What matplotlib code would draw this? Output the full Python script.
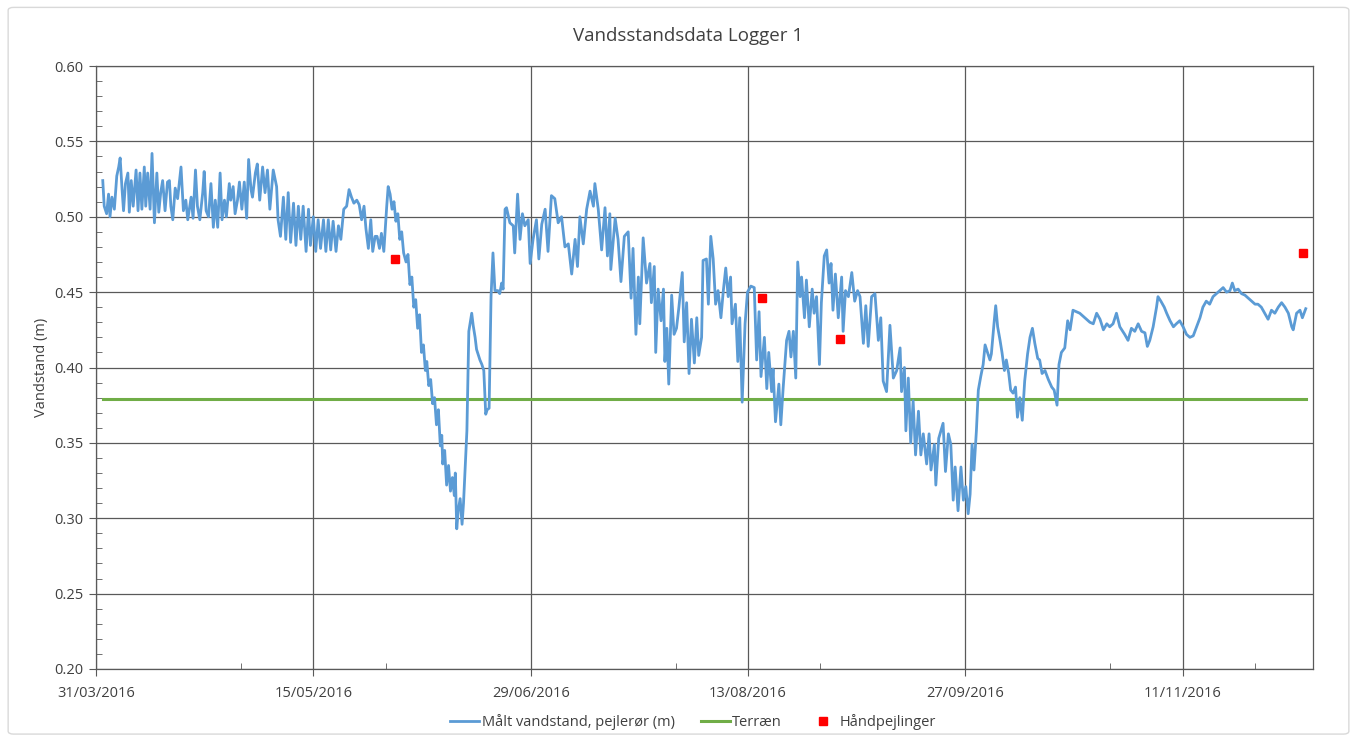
import numpy as np
import pandas as pd
import matplotlib
matplotlib.use("Agg")
import matplotlib.pyplot as plt
import matplotlib.dates as mdates
from matplotlib.patches import FancyBboxPatch

# logger readings, days after 31/03/2016 and water level (m)
logger_day = [
    1.4, 1.7, 2.2, 2.6, 2.9, 3.3, 3.8, 4.3, 4.7, 5.0, 5.4, 5.7, 6.1, 6.6, 6.9, 7.3, 7.7, 8.3, 8.7, 9.1,
    9.5, 10.0, 10.3, 10.7, 11.2, 11.6, 12.1, 12.6, 13.0, 13.4, 13.8, 14.3, 14.8, 15.2, 15.5, 15.9, 16.4, 16.9, 17.6, 18.1,
    18.6, 19.0, 19.7, 20.1, 20.6, 21.0, 21.5, 22.1, 22.4, 22.8, 23.3, 23.8, 24.3, 24.7, 25.2, 25.7, 26.1, 26.6, 27.0, 27.6,
    27.9, 28.4, 28.8, 29.3, 29.7, 30.2, 30.7, 31.2, 31.6, 32.1, 32.4, 33.0, 33.4, 33.9, 34.5, 35.0, 35.5, 36.0, 36.7, 37.4,
    37.7, 38.2, 38.8, 39.3, 39.8, 40.3, 40.9, 41.4, 41.9, 42.4, 42.9, 43.5, 44.0, 44.4, 45.0, 45.5, 46.0, 46.5, 47.1, 47.6,
    48.1, 48.6, 49.1, 49.7, 50.2, 50.7, 51.3, 51.9, 52.4, 52.9, 53.4, 54.0, 54.5, 55.0, 55.5, 55.9, 56.4, 56.9, 57.3, 57.8,
    58.2, 58.7, 59.1, 59.6, 60.2, 60.5, 60.9, 61.3, 61.7, 62.1, 62.5, 62.9, 63.3, 63.7, 64.2, 64.6, 65.0, 65.4, 65.8, 66.2,
    66.6, 67.0, 67.4, 67.8, 68.2, 68.5, 68.9, 69.3, 69.7, 70.1, 70.5, 70.9, 71.3, 71.6, 71.8, 72.2, 72.6, 73.0, 73.4, 73.8,
    74.2, 74.4, 74.7, 75.0, 75.4, 75.8, 76.1, 76.4, 76.8, 77.2, 77.8, 78.1, 78.5, 78.8, 79.1, 79.5, 79.9, 80.3, 80.7, 81.0,
    81.4, 81.8, 82.2, 82.6, 83.2, 83.6, 84.0, 84.3, 84.7, 85.0, 85.7, 86.4, 86.7, 87.3, 87.8, 88.3, 88.8, 89.5, 89.9, 90.5,
    91.2, 91.7, 92.3, 93.0, 93.6, 94.3, 95.0, 95.7, 96.4, 97.1, 97.8, 98.5, 99.2, 99.7, 100.2, 100.9, 101.6, 102.3, 103.0, 103.3,
    104.0, 104.7, 105.4, 105.9, 106.4, 106.6, 107.5, 108.1, 108.7, 109.4, 110.2, 110.8, 111.2, 111.8, 112.3, 112.6, 113.3, 114.0, 114.7, 115.0,
    115.6, 115.9, 116.4, 117.0, 117.5, 117.8, 118.2, 118.6, 119.2, 119.7, 120.2, 120.7, 121.4, 121.8, 122.3, 122.8, 123.3, 123.9, 124.4, 124.8,
    125.4, 125.7, 126.4, 126.8, 127.3, 127.8, 128.3, 128.8, 129.4, 129.9, 130.4, 130.9, 131.4, 131.7, 132.4, 132.9, 133.3, 133.8, 134.4, 134.9,
    135.6, 136.3, 136.8, 137.3, 137.7, 138.4, 138.9, 139.3, 139.9, 140.2, 140.7, 141.4, 141.8, 142.3, 143.0, 143.5, 143.9, 144.4, 144.9, 145.3,
    145.8, 146.1, 146.7, 147.1, 147.7, 148.3, 148.7, 149.2, 149.8, 150.2, 150.8, 151.3, 151.8, 152.2, 152.6, 153.1, 153.7, 154.4, 154.7, 155.2,
    155.8, 156.5, 157.1, 157.7, 158.2, 158.9, 159.4, 159.9, 160.6, 161.3, 162.0, 162.5, 163.0, 163.7, 164.4, 165.1, 165.8, 166.5, 166.8, 167.4,
    167.7, 168.2, 168.7, 169.2, 169.7, 170.3, 170.8, 171.3, 172.0, 172.5, 172.9, 173.6, 173.9, 174.5, 175.4, 175.9, 176.5, 177.0, 177.5, 177.9,
    178.5, 179.1, 179.6, 180.1, 180.6, 181.0, 181.4, 181.8, 182.3, 182.7, 183.2, 183.7, 184.1, 184.6, 185.1, 185.4, 186.0, 186.3, 186.7, 187.2,
    187.6, 188.1, 188.5, 189.0, 189.4, 189.9, 190.4, 190.8, 191.3, 191.8, 192.3, 192.9, 193.4, 193.9, 194.4, 195.0, 195.4, 195.9, 196.5, 197.2,
    197.9, 198.4, 199.0, 199.4, 199.9, 200.6, 201.2, 201.7, 202.3, 203.0, 203.7, 204.4, 205.1, 205.8, 206.5, 207.2, 207.9, 208.6, 209.3, 209.9,
    210.6, 211.3, 212.0, 213.0, 213.7, 214.4, 215.1, 215.8, 216.5, 217.2, 217.7, 218.2, 218.9, 219.6, 219.9, 220.5, 221.2, 221.7, 222.4, 223.1,
    223.7, 224.4, 225.1, 225.8, 226.5, 227.2, 227.9, 228.6, 229.2, 229.9, 230.6, 231.3, 232.0, 232.7, 233.4, 234.1, 234.8, 235.3, 235.8, 236.5,
    237.2, 237.9, 238.6, 239.3, 240.0, 240.6, 241.3, 242.0, 242.7, 243.4, 244.1, 244.8, 245.5, 246.2, 246.9, 247.6, 247.9, 248.6, 249.3, 249.8,
    250.5,
]
logger_level = [
    0.524, 0.507, 0.502, 0.515, 0.500, 0.513, 0.505, 0.527, 0.533, 0.539, 0.518, 0.504, 0.522, 0.529, 0.503, 0.524, 0.507, 0.531, 0.504, 0.529,
    0.505, 0.533, 0.507, 0.529, 0.505, 0.542, 0.496, 0.529, 0.503, 0.516, 0.524, 0.504, 0.523, 0.524, 0.507, 0.498, 0.519, 0.512, 0.533, 0.504,
    0.511, 0.498, 0.513, 0.499, 0.531, 0.507, 0.498, 0.516, 0.530, 0.504, 0.500, 0.522, 0.493, 0.511, 0.493, 0.529, 0.498, 0.511, 0.500, 0.522,
    0.511, 0.520, 0.502, 0.511, 0.523, 0.505, 0.523, 0.499, 0.538, 0.518, 0.513, 0.529, 0.535, 0.511, 0.533, 0.516, 0.531, 0.505, 0.531, 0.520,
    0.498, 0.487, 0.513, 0.485, 0.516, 0.483, 0.509, 0.481, 0.507, 0.485, 0.507, 0.477, 0.505, 0.481, 0.500, 0.477, 0.498, 0.479, 0.498, 0.477,
    0.498, 0.478, 0.497, 0.477, 0.494, 0.485, 0.505, 0.507, 0.518, 0.513, 0.509, 0.511, 0.508, 0.498, 0.507, 0.492, 0.479, 0.498, 0.477, 0.487,
    0.487, 0.479, 0.489, 0.477, 0.507, 0.520, 0.515, 0.505, 0.510, 0.497, 0.502, 0.485, 0.490, 0.476, 0.470, 0.475, 0.455, 0.460, 0.440, 0.445,
    0.426, 0.435, 0.410, 0.415, 0.398, 0.404, 0.388, 0.392, 0.376, 0.380, 0.362, 0.372, 0.348, 0.355, 0.336, 0.345, 0.322, 0.335, 0.318, 0.327,
    0.315, 0.330, 0.293, 0.305, 0.313, 0.296, 0.310, 0.331, 0.358, 0.424, 0.436, 0.428, 0.420, 0.412, 0.409, 0.405, 0.402, 0.398, 0.369, 0.372,
    0.373, 0.447, 0.476, 0.451, 0.451, 0.449, 0.456, 0.452, 0.505, 0.506, 0.496, 0.494, 0.476, 0.515, 0.485, 0.502, 0.494, 0.498, 0.469, 0.485,
    0.498, 0.472, 0.495, 0.505, 0.477, 0.514, 0.512, 0.496, 0.500, 0.480, 0.482, 0.462, 0.485, 0.467, 0.500, 0.482, 0.505, 0.517, 0.507, 0.522,
    0.505, 0.478, 0.506, 0.474, 0.502, 0.465, 0.499, 0.485, 0.457, 0.487, 0.490, 0.446, 0.479, 0.422, 0.460, 0.429, 0.486, 0.456, 0.469, 0.443,
    0.467, 0.410, 0.452, 0.431, 0.452, 0.404, 0.426, 0.389, 0.448, 0.422, 0.426, 0.440, 0.463, 0.417, 0.443, 0.396, 0.432, 0.403, 0.433, 0.408,
    0.420, 0.471, 0.472, 0.442, 0.487, 0.472, 0.442, 0.451, 0.433, 0.451, 0.466, 0.447, 0.460, 0.429, 0.442, 0.404, 0.433, 0.377, 0.429, 0.450,
    0.454, 0.453, 0.405, 0.437, 0.394, 0.420, 0.386, 0.410, 0.384, 0.399, 0.364, 0.389, 0.362, 0.387, 0.418, 0.424, 0.407, 0.424, 0.393, 0.470,
    0.447, 0.460, 0.433, 0.458, 0.427, 0.452, 0.436, 0.447, 0.402, 0.443, 0.474, 0.478, 0.456, 0.469, 0.438, 0.462, 0.433, 0.460, 0.424, 0.451,
    0.447, 0.463, 0.444, 0.451, 0.447, 0.416, 0.441, 0.414, 0.447, 0.449, 0.418, 0.433, 0.391, 0.384, 0.428, 0.393, 0.398, 0.413, 0.384, 0.400,
    0.358, 0.393, 0.350, 0.378, 0.342, 0.371, 0.342, 0.356, 0.336, 0.356, 0.332, 0.349, 0.322, 0.353, 0.363, 0.331, 0.356, 0.349, 0.312, 0.334,
    0.305, 0.334, 0.312, 0.321, 0.303, 0.316, 0.349, 0.332, 0.358, 0.385, 0.394, 0.402, 0.415, 0.410, 0.405, 0.409, 0.431, 0.441, 0.427, 0.418,
    0.410, 0.398, 0.405, 0.396, 0.385, 0.383, 0.387, 0.367, 0.380, 0.365, 0.391, 0.409, 0.420, 0.426, 0.416, 0.406, 0.405, 0.396, 0.398, 0.392,
    0.387, 0.385, 0.375, 0.402, 0.410, 0.413, 0.431, 0.425, 0.438, 0.437, 0.436, 0.434, 0.432, 0.430, 0.429, 0.436, 0.432, 0.425, 0.429, 0.427,
    0.429, 0.436, 0.427, 0.422, 0.418, 0.426, 0.424, 0.429, 0.424, 0.423, 0.414, 0.418, 0.427, 0.440, 0.447, 0.444, 0.440, 0.436, 0.431, 0.427,
    0.429, 0.431, 0.427, 0.422, 0.420, 0.421, 0.427, 0.433, 0.440, 0.444, 0.442, 0.447, 0.449, 0.451, 0.453, 0.450, 0.451, 0.456, 0.451, 0.452,
    0.449, 0.448, 0.446, 0.444, 0.442, 0.442, 0.440, 0.436, 0.432, 0.438, 0.436, 0.440, 0.443, 0.440, 0.436, 0.427, 0.425, 0.436, 0.438, 0.433,
    0.439,
]

terrain_level = 0.379

manual_dates = ["2016-06-01", "2016-08-16", "2016-09-01", "2016-12-06"]
manual_level = [0.472, 0.446, 0.419, 0.476]

start = pd.Timestamp("2016-03-31")
end = pd.Timestamp("2016-12-08")
logger_dates = start + pd.to_timedelta(logger_day, unit="D")
terrain_dates = [logger_dates[0], logger_dates[-1]]

plt.rcParams["font.family"] = ["Open Sans", "DejaVu Sans"]
txt = "#404040"

fig = plt.figure(figsize=(13.57, 7.40), dpi=100)
fig.patches.append(FancyBboxPatch((0.006, 0.008), 0.988, 0.982, boxstyle="round,pad=0,rounding_size=0.004",
                                  transform=fig.transFigure, fc="white", ec="#d9d9d9", lw=1.0, zorder=-1))
ax = fig.add_axes([96 / 1357, 1 - 669 / 740, (1313 - 96) / 1357, (669 - 66) / 740])

ax.plot(logger_dates, logger_level, color="#5b9bd5", lw=2.0, label="Målt vandstand, pejlerør (m)", zorder=3)
ax.plot(terrain_dates, [terrain_level] * 2, color="#70ad47", lw=2.2, label="Terræn", zorder=2)
ax.plot(pd.to_datetime(manual_dates), manual_level, ls="none", marker="s", ms=6, color="#ff0000",
        label="Håndpejlinger", zorder=4)

ax.set_xlim(start, end)
ax.set_ylim(0.20, 0.60)
ax.set_yticks(np.arange(0.20, 0.601, 0.05))
ax.set_yticks(np.arange(0.20, 0.601, 0.01), minor=True)
ax.set_xticks(pd.date_range(start, end, freq="45D"))
ax.set_xticks(pd.date_range(start, end, freq="30D"), minor=True)
ax.xaxis.set_major_formatter(mdates.DateFormatter("%d/%m/%Y"))
ax.yaxis.set_major_formatter(matplotlib.ticker.FormatStrFormatter("%.2f"))

ax.grid(True, which="major", color="#595959", lw=0.9)
ax.set_axisbelow(True)
for s in ax.spines.values():
    s.set_color("#595959")
    s.set_linewidth(0.9)
ax.tick_params(which="major", direction="out", length=5, color="#595959", labelsize=10.5, labelcolor=txt, pad=4)
ax.tick_params(which="minor", direction="in", length=4, color="#595959")
ax.tick_params(axis="x", which="major", pad=7)

ax.set_ylabel("Vandstand (m)", fontsize=10.5, color=txt, labelpad=4)
fig.text(0.507, 0.952, "Vandsstandsdata Logger 1", ha="center", va="center", fontsize=13.5, color=txt)

fig.legend(loc="center", bbox_to_anchor=(693 / 1357, 1 - 722 / 740), ncol=3, frameon=False, fontsize=10.5,
           handlelength=2.0, handletextpad=0.15, columnspacing=1.8, labelcolor=txt)

fig.savefig("out.png", dpi=100)
